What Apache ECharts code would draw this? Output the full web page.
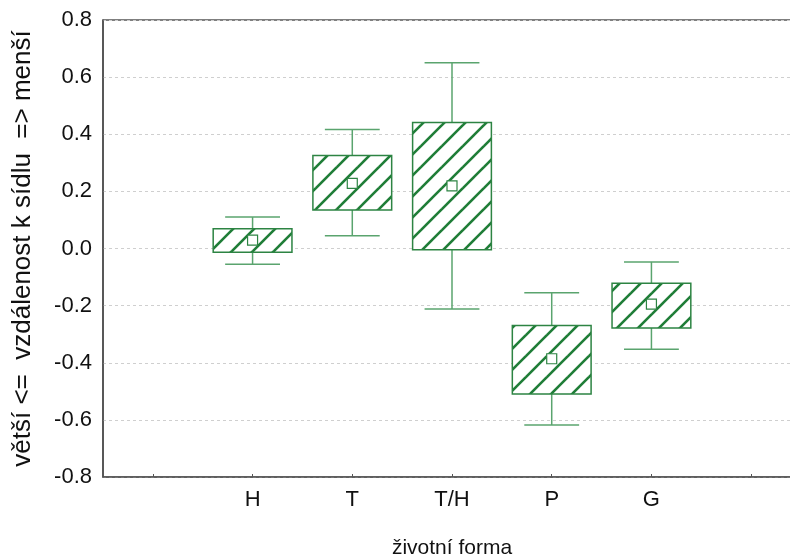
<!DOCTYPE html>
<html>
<head>
<meta charset="utf-8">
<script src="https://cdn.jsdelivr.net/npm/echarts@6/dist/echarts.min.js"></script>
<style>html,body{margin:0;padding:0;background:#fff}#c{width:790px;height:560px}</style>
</head>
<body>
<div id="c"></div>
<script>
// Category slots (first and last are empty slots on the axis)
var categories = ['', 'H', 'T', 'T/H', 'P', 'G', ''];
var groups = ['H', 'T', 'T/H', 'P', 'G'];
var whiskerLow  = [-0.055, 0.045, -0.212, -0.618, -0.353];
var boxLow      = [-0.013, 0.135, -0.004, -0.509, -0.278];
var meanVal     = [0.029, 0.228, 0.219, -0.386, -0.195];
var boxHigh     = [0.069, 0.326, 0.441, -0.270, -0.122];
var whiskerHigh = [0.110, 0.417, 0.650, -0.155, -0.047];
var yTicks = [-0.8, -0.6, -0.4, -0.2, 0.0, 0.2, 0.4, 0.6, 0.8];

var FONT = '"Liberation Sans", Arial, sans-serif';

// hatch pattern
var s = 21;
var pc = document.createElement('canvas');
pc.width = s; pc.height = s;
var ctx = pc.getContext('2d');
ctx.fillStyle = '#ffffff';
ctx.fillRect(0, 0, s, s);
ctx.strokeStyle = '#1f7d37';
ctx.lineWidth = 2.6;
[0, -s, s].forEach(function (o) {
  ctx.beginPath();
  ctx.moveTo(-2, s + o + 2);
  ctx.lineTo(s + 2, o - 2);
  ctx.stroke();
});

var data = groups.map(function (g, i) {
  return [categories.indexOf(g), whiskerLow[i], boxLow[i], meanVal[i], boxHigh[i], whiskerHigh[i]];
});

var chart = echarts.init(document.getElementById('c'), null, {renderer: 'canvas'});
chart.setOption({
  animation: false,
  backgroundColor: '#fff',
  grid: {left: 103, top: 20, right: -11, bottom: 83, outerBoundsMode: 'none', containLabel: false,
    show: true, borderColor: '#000', borderWidth: 1.2, backgroundColor: 'transparent'},
  xAxis: {
    type: 'category',
    data: categories,
    name: 'životní forma',
    nameLocation: 'middle',
    nameGap: 61,
    nameTextStyle: {fontFamily: FONT, fontSize: 21, color: '#111'},
    axisLine: {show: true, onZero: false, lineStyle: {color: '#555', width: 1.5}},
    axisTick: {show: true, inside: true, length: 3, alignWithLabel: true, lineStyle: {color: '#555'}},
    axisLabel: {fontFamily: FONT, fontSize: 22, color: '#111', margin: 12},
    splitLine: {show: false}
  },
  yAxis: {
    type: 'value',
    min: -0.8, max: 0.8, interval: 0.2,
    name: 'větší <=  vzdálenost k sídlu  => menší',
    nameLocation: 'middle',
    nameGap: 67,
    nameRotate: 90,
    nameTextStyle: {fontFamily: FONT, fontSize: 26, color: '#111'},
    axisLine: {show: true, lineStyle: {color: '#555', width: 1.5}},
    axisTick: {show: false},
    axisLabel: {fontFamily: FONT, fontSize: 22, color: '#111', margin: 11,
      formatter: function (v) { return (Math.round(v * 10) / 10).toFixed(1); }},
    splitLine: {show: true, lineStyle: {color: '#cfcfcf', type: [3, 3], width: 1}}
  },
  series: [{
    type: 'custom',
    data: data,
    encode: {x: 0, y: [1, 2, 3, 4, 5]},
    renderItem: function (params, api) {
      var x = api.value(0);
      var band = api.size([1, 0])[0];
      var bw = band * 0.79;
      var cw = band * 0.55;
      var pWL = api.coord([x, api.value(1)]);
      var pBL = api.coord([x, api.value(2)]);
      var pM = api.coord([x, api.value(3)]);
      var pBH = api.coord([x, api.value(4)]);
      var pWH = api.coord([x, api.value(5)]);
      var cx = pBL[0];
      var wStyle = {stroke: '#5aa46e', lineWidth: 1.5};
      return {
        type: 'group',
        children: [
          {type: 'line', shape: {x1: cx, y1: pWH[1], x2: cx, y2: pBH[1]}, style: wStyle},
          {type: 'line', shape: {x1: cx - cw / 2, y1: pWH[1], x2: cx + cw / 2, y2: pWH[1]}, style: wStyle},
          {type: 'line', shape: {x1: cx, y1: pBL[1], x2: cx, y2: pWL[1]}, style: wStyle},
          {type: 'line', shape: {x1: cx - cw / 2, y1: pWL[1], x2: cx + cw / 2, y2: pWL[1]}, style: wStyle},
          {type: 'rect', shape: {x: cx - bw / 2, y: pBH[1], width: bw, height: pBL[1] - pBH[1]},
            style: {fill: {image: pc, repeat: 'repeat'}, stroke: '#2d8443', lineWidth: 1.5}},
          {type: 'rect', shape: {x: cx - 5, y: pM[1] - 5, width: 10, height: 10},
            style: {fill: '#fff', stroke: '#2d8443', lineWidth: 1.2}}
        ]
      };
    }
  }]
});
</script>
</body>
</html>
